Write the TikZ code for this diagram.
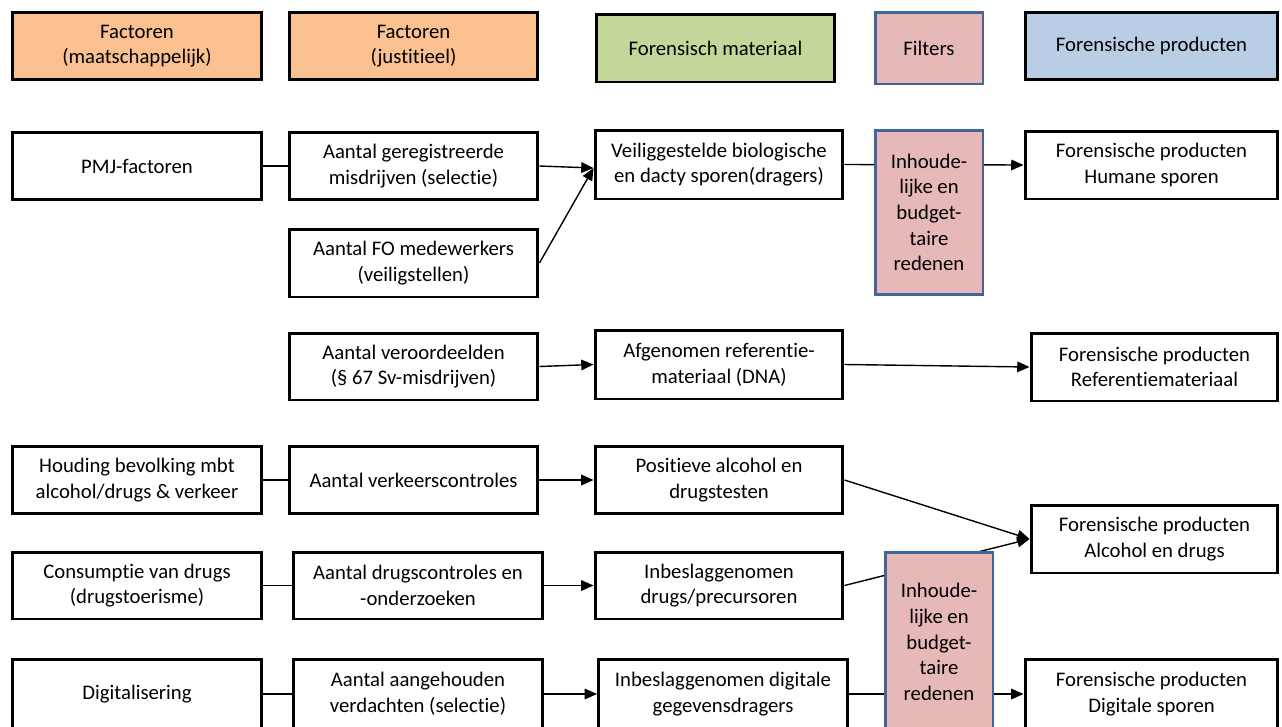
\documentclass[tikz,border=0pt]{standalone}
\usepackage{fontspec}
\setmainfont{Carlito}[Ligatures=NoCommon]
\usetikzlibrary{arrows.meta}

\definecolor{factorange}{HTML}{FAC090}
\definecolor{matgreen}{HTML}{C4D79B}
\definecolor{filterpink}{HTML}{E6B9B8}
\definecolor{filterblue}{HTML}{41659A}
\definecolor{prodblue}{HTML}{B9CDE5}

\begin{document}
\begin{tikzpicture}[x=0.02cm,y=-0.02cm,
  box/.style={draw,line width=1.7pt,fill=white,align=center,inner sep=2pt,
    minimum width=4.98cm,minimum height=1.34cm,
    font=\fontsize{11.8}{14.6}\selectfont},
  filterbox/.style={box,draw=filterblue,fill=filterpink,minimum width=2.16cm},
  link/.style={line width=0.8pt},
  flow/.style={link,-{Triangle[length=7pt,width=6pt]}}]
\useasboundingbox (0,0) rectangle (1282,727);

% Headers
\node[box,fill=factorange] (hmaat) at (137,46) {Factoren\\(maatschappelijk)};
\node[box,fill=factorange] (hjust) at (413.5,46) {Factoren\\(justitieel)};
\node[box,fill=matgreen,minimum width=4.78cm,minimum height=1.36cm] (hmat) at (715.5,48) {Forensisch materiaal};
\node[filterbox,minimum height=1.44cm] (hfilt) at (929,48) {Filters};
\node[box,fill=prodblue,minimum width=5.06cm] (hprod) at (1151.5,46) {Forensische producten};

% Biologische en dacty sporen
\node[box] (pmj) at (137,166) {PMJ-factoren};
\node[box] (registr) at (413.5,166) {Aantal geregistreerde\\misdrijven (selectie)};
\node[box,minimum height=1.36cm] (fomedew) at (413.5,263) {Aantal FO medewerkers\\(veiligstellen)};
\node[box,minimum width=4.96cm,minimum height=1.38cm] (veilig) at (719,164.5) {Veiliggestelde biologische\\en dacty sporen(dragers)};
\node[box,minimum width=5.06cm,minimum height=1.36cm] (humaan) at (1151.5,165) {Forensische producten\\Humane sporen};
\coordinate (veiligin) at ([yshift=-0.07cm]veilig.west);

% Referentiemateriaal
\node[box] (veroord) at (413.5,366.5) {Aantal veroordeelden\\(\S\ 67 Sv-misdrijven)};
\node[box,minimum width=4.96cm,minimum height=1.38cm] (afgen) at (719,364.5) {Afgenomen referentie-\\materiaal (DNA)};
\node[box,minimum width=4.94cm,minimum height=1.36cm] (referentie) at (1154.5,367) {Forensische producten\\Referentiemateriaal};

% Alcohol en drugs
\node[box] (houding) at (137,480) {Houding bevolking mbt\\alcohol/drugs \& verkeer};
\node[box] (verkeer) at (413.5,480) {Aantal verkeerscontroles};
\node[box,minimum width=4.96cm] (positief) at (719,480) {Positieve alcohol en\\drugstesten};
\node[box,minimum width=4.94cm,minimum height=1.36cm] (alcohol) at (1154.5,539) {Forensische producten\\Alcohol en drugs};
\node[box] (consumptie) at (137,585.5) {Consumptie van drugs\\(drugstoerisme)};
\node[box] (drugsctrl) at (418,585.5) {Aantal drugscontroles en\\-onderzoeken};
\node[box,minimum width=4.96cm] (drugsbesl) at (719,585.5) {Inbeslaggenomen\\drugs/precursoren};

% Digitale sporen
\node[box,minimum height=1.4cm] (digital) at (137,694) {Digitalisering};
\node[box,minimum height=1.4cm] (aangeh) at (418,694) {Aantal aangehouden\\verdachten (selectie)};
\node[box,minimum height=1.4cm] (digibesl) at (723,694) {Inbeslaggenomen digitale\\gegevensdragers};
\node[box,minimum width=5.06cm,minimum height=1.4cm] (digisporen) at (1151.5,694) {Forensische producten\\Digitale sporen};

% Connectors
\draw[link] (pmj) -- (registr);
\draw[flow] (registr.east) -- (veiligin);
\draw[flow] (fomedew.east) -- (veiligin);
\draw[flow] (veilig.east) -- (humaan.west);
\draw[flow] (veroord.east) -- (afgen.west);
\draw[flow] (afgen.east) -- (referentie.west);
\draw[link] (houding) -- (verkeer);
\draw[flow] (verkeer.east) -- (positief.west);
\draw[flow] (positief.east) -- (alcohol.west);
\draw[link] (consumptie) -- (drugsctrl);
\draw[flow] (drugsctrl.east) -- (drugsbesl.west);
\draw[flow] (drugsbesl.east) -- (alcohol.west);
\draw[link] (digital) -- (aangeh);
\draw[flow] (aangeh.east) -- (digibesl.west);
\draw[flow] (digibesl.east) -- (digisporen.west);

% Filters (over the connectors)
\node[filterbox,minimum height=3.3cm] (filter1) at (929,212.5) {Inhoude-\\lijke en\\budget-\\taire\\redenen};
\node[filterbox,minimum height=3.6cm] (filter2) at (939,642) {Inhoude-\\lijke en\\budget-\\taire\\redenen};
\end{tikzpicture}
\end{document}
